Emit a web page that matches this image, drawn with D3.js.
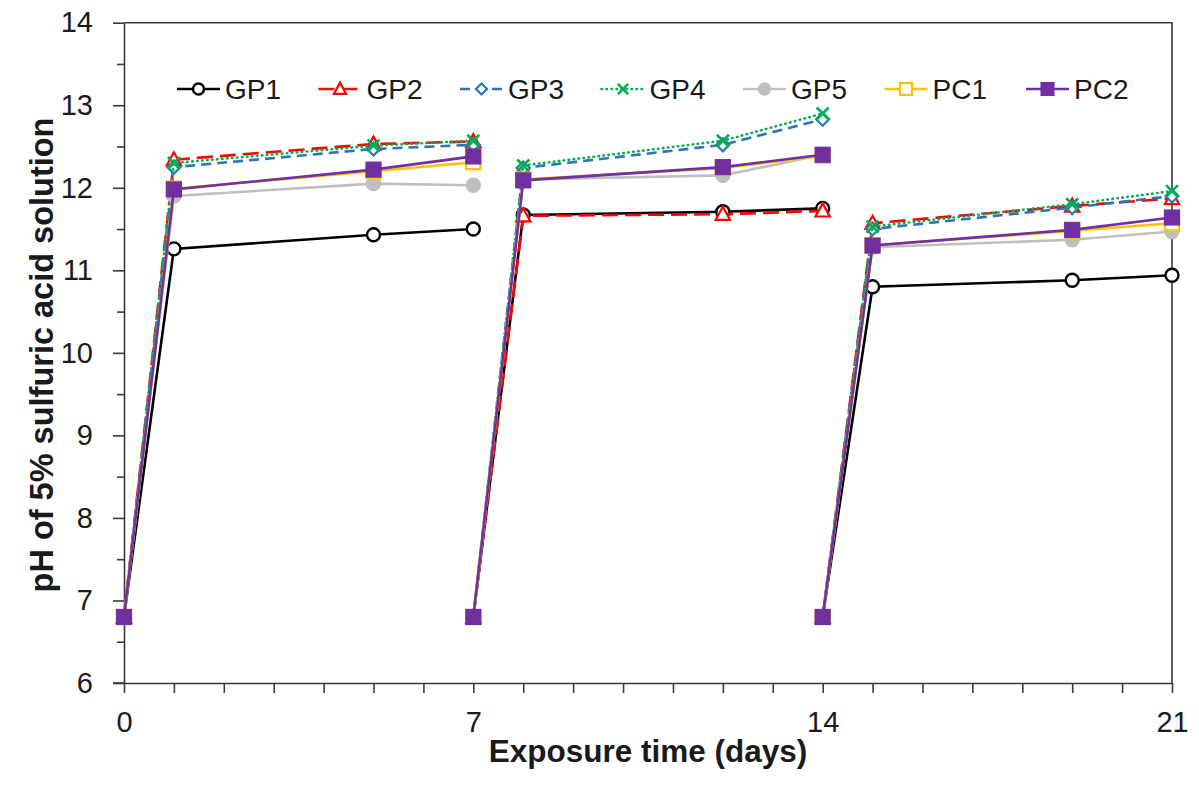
<!DOCTYPE html>
<html>
<head>
<meta charset="utf-8">
<script src="https://cdn.jsdelivr.net/npm/d3@7"></script>
<style>
  html, body { margin: 0; padding: 0; background: #fff; }
  svg { display: block; font-family: "Liberation Sans", Arial, Helvetica, sans-serif; }
</style>
</head>
<body>
<svg id="chart" width="1199" height="787"></svg>
<script>
// Exposure days for each of the three solution-renewal cycles
const cycleDays = [[0, 1, 5, 7], [7, 8, 12, 14], [14, 15, 19, 21]];

// pH readings per mix, one row per cycle
const gp1 = [[6.8, 11.26, 11.43, 11.50], [6.8, 11.67, 11.71, 11.75], [6.8, 10.80, 10.88, 10.94]];
const gp2 = [[6.8, 12.34, 12.53, 12.56], [6.8, 11.66, 11.68, 11.72], [6.8, 11.57, 11.78, 11.87]];
const gp3 = [[6.8, 12.25, 12.47, 12.52], [6.8, 12.24, 12.52, 12.83], [6.8, 11.50, 11.76, 11.90]];
const gp4 = [[6.8, 12.30, 12.51, 12.57], [6.8, 12.27, 12.57, 12.90], [6.8, 11.53, 11.80, 11.96]];
const gp5 = [[6.8, 11.90, 12.05, 12.03], [6.8, 12.10, 12.15, 12.40], [6.8, 11.28, 11.37, 11.47]];
const pc1 = [[6.8, 11.99, 12.20, 12.31], [6.8, 12.10, 12.24, 12.39], [6.8, 11.30, 11.48, 11.57]];
const pc2 = [[6.8, 11.98, 12.22, 12.38], [6.8, 12.09, 12.25, 12.40], [6.8, 11.30, 11.49, 11.64]];

const seriesNames = ["GP1", "GP2", "GP3", "GP4", "GP5", "PC1", "PC2"];
const seriesValues = [gp1, gp2, gp3, gp4, gp5, pc1, pc2];

const yTicks = [6, 7, 8, 9, 10, 11, 12, 13, 14];
const xLabelTicks = [0, 7, 14, 21];

// Line and marker styling per mix
const styles = {
  GP1: { color: "#000000", dash: null, marker: "circle", fill: "#ffffff" },
  GP2: { color: "#ff0000", dash: "16,7", marker: "triangle", fill: "#ffffff" },
  GP3: { color: "#2e75b6", dash: "10,6", marker: "diamond", fill: "#ffffff" },
  GP4: { color: "#00b050", dash: "0.5,4.5", marker: "x", fill: "none" },
  GP5: { color: "#bfbfbf", dash: null, marker: "circle", fill: "#bfbfbf" },
  PC1: { color: "#ffc000", dash: null, marker: "square", fill: "#ffffff" },
  PC2: { color: "#7030a0", dash: null, marker: "square", fill: "#7030a0" }
};

const svg = d3.select("#chart");
const plotLeft = 124, plotRight = 1172, plotTop = 22.7, plotBottom = 683;

const x = d3.scaleLinear().domain([0, 21]).range([plotLeft, plotRight]);
const y = d3.scaleLinear().domain([6, 14]).range([plotBottom, plotTop]);

const axisColor = "#3a3a3a";

// Plot frame (top and right edges)
svg.append("path")
  .attr("d", `M${plotLeft},${plotTop}H${plotRight}V${plotBottom}`)
  .attr("fill", "none").attr("stroke", axisColor).attr("stroke-width", 1.6);

// Y axis: major ticks with labels, minor half-unit ticks
svg.append("g").attr("transform", `translate(${plotLeft},0)`)
  .call(d3.axisLeft(y).tickValues(yTicks).tickSize(11).tickSizeOuter(0).tickPadding(20).tickFormat(d3.format("d")));
svg.append("g").attr("transform", `translate(${plotLeft},0)`)
  .call(d3.axisLeft(y).tickValues(d3.range(6.5, 14, 1)).tickSize(7).tickFormat(""))
  .call(g => g.select(".domain").remove());

// X axis: a tick every day, labels each week
svg.append("g").attr("transform", `translate(0,${plotBottom})`)
  .call(d3.axisBottom(x).tickValues(d3.range(0, 22)).tickSize(10).tickSizeOuter(0).tickPadding(18)
    .tickFormat(d => xLabelTicks.includes(d) ? d : ""));

svg.selectAll(".domain, .tick line").attr("stroke", axisColor).attr("stroke-width", 1.6);
svg.selectAll(".tick text")
  .attr("font-size", 29).attr("fill", "#1a1a1a")
  .attr("font-family", "'Liberation Sans', Arial, sans-serif");

// Extend the x baseline left so it meets the y=6 tick
svg.append("line").attr("x1", plotLeft - 11).attr("x2", plotLeft).attr("y1", plotBottom).attr("y2", plotBottom)
  .attr("stroke", axisColor).attr("stroke-width", 1.6);

// Axis titles
svg.append("text")
  .attr("x", (plotLeft + plotRight) / 2).attr("y", 762)
  .attr("text-anchor", "middle").attr("font-size", 31.5).attr("font-weight", "bold").attr("fill", "#1a1a1a")
  .text("Exposure time (days)");
svg.append("text")
  .attr("transform", "translate(53,355) rotate(-90)")
  .attr("text-anchor", "middle").attr("font-size", 32.5).attr("font-weight", "bold").attr("fill", "#1a1a1a")
  .text("pH of 5% sulfuric acid solution");

// Marker drawing helper
function drawMarker(g, type, cx, cy, st, scale) {
  const s = scale || 1;
  if (type === "circle") {
    g.append("circle").attr("cx", cx).attr("cy", cy).attr("r", 6.5 * s)
      .attr("fill", st.fill).attr("stroke", st.color).attr("stroke-width", 2.4);
  } else if (type === "square") {
    const h = 7 * s;
    g.append("rect").attr("x", cx - h).attr("y", cy - h).attr("width", 2 * h).attr("height", 2 * h)
      .attr("fill", st.fill).attr("stroke", st.color).attr("stroke-width", 2.2);
  } else if (type === "triangle") {
    const h = 7.5 * s;
    g.append("path")
      .attr("d", `M${cx},${cy - h}L${cx + h * 0.95},${cy + h * 0.75}L${cx - h * 0.95},${cy + h * 0.75}Z`)
      .attr("fill", st.fill).attr("stroke", st.color).attr("stroke-width", 2.2);
  } else if (type === "diamond") {
    const h = 6.5 * s;
    g.append("path")
      .attr("d", `M${cx},${cy - h}L${cx + h},${cy}L${cx},${cy + h}L${cx - h},${cy}Z`)
      .attr("fill", st.fill).attr("stroke", st.color).attr("stroke-width", 2.2);
  } else if (type === "x") {
    const h = 6 * s;
    g.append("path")
      .attr("d", `M${cx - h},${cy - h}L${cx + h},${cy + h}M${cx + h},${cy - h}L${cx - h},${cy + h}`)
      .attr("fill", "none").attr("stroke", st.color).attr("stroke-width", 2.6);
  }
}

// Series lines and markers, one path per cycle
const line = d3.line().x(d => x(d[0])).y(d => y(d[1]));
const plot = svg.append("g");
seriesNames.forEach((name, i) => {
  const st = styles[name];
  const g = plot.append("g");
  seriesValues[i].forEach((vals, c) => {
    const pts = cycleDays[c].map((d, k) => [d, vals[k]]);
    g.append("path").attr("d", line(pts))
      .attr("fill", "none").attr("stroke", st.color).attr("stroke-width", 2.6)
      .attr("stroke-dasharray", st.dash)
      .attr("stroke-linecap", name === "GP4" ? "round" : "butt");
    pts.forEach(p => drawMarker(g, st.marker, x(p[0]), y(p[1]), st, 1));
  });
});

// Legend across the top of the plot
const legend = svg.append("g");
seriesNames.forEach((name, i) => {
  const st = styles[name];
  const lx = 177 + i * 141.5, ly = 89;
  const item = legend.append("g");
  item.append("line").attr("x1", lx).attr("x2", lx + 43).attr("y1", ly).attr("y2", ly)
    .attr("stroke", st.color).attr("stroke-width", 2.6)
    .attr("stroke-dasharray", st.dash)
    .attr("stroke-linecap", name === "GP4" ? "round" : "butt");
  drawMarker(item, st.marker, lx + 21.5, ly, st, 0.85);
  item.append("text").attr("x", lx + 48).attr("y", ly + 10)
    .attr("font-size", 28).attr("fill", "#1a1a1a").text(name);
});
</script>
</body>
</html>
